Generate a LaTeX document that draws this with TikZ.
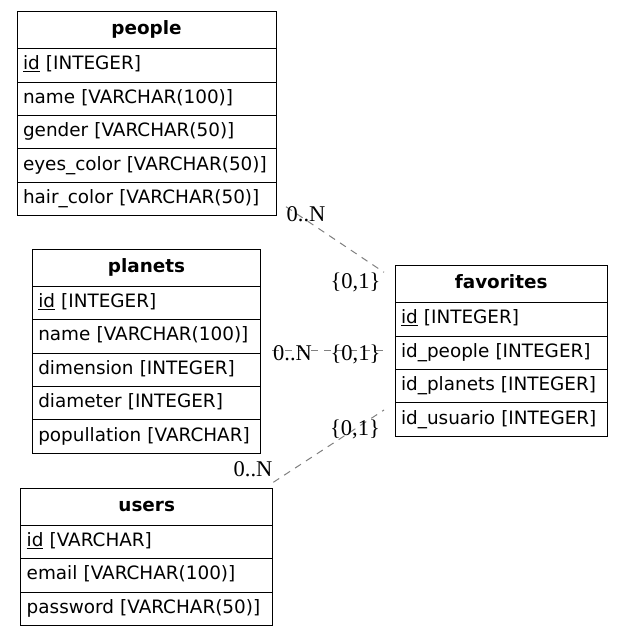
\documentclass[tikz,border=0pt]{standalone}
\usepackage{fontspec}
\setsansfont{DejaVu Sans}
\newfontfamily\cardfont{Liberation Serif}
\usetikzlibrary{positioning}

\begin{document}
\begin{tikzpicture}[x=1pt,y=-1pt,
  hdr/.style={draw,line width=1pt,font=\sffamily\bfseries\fontsize{18.4}{22}\selectfont,
    text width=#1,align=center,minimum height=37pt,inner xsep=6pt,inner ysep=0pt,
    text height=13.4pt,text depth=4.4pt,anchor=north west,outer sep=0pt},
  row/.style={draw,line width=1pt,font=\sffamily\fontsize{18.4}{22}\selectfont,
    text width=#1,align=left,minimum height=33.4pt,inner xsep=6pt,inner ysep=0pt,
    text height=13.4pt,text depth=4.4pt,outer sep=0pt},
  card/.style={font=\cardfont\fontsize{22.5}{26}\selectfont,inner sep=0pt,anchor=base},
  rel/.style={draw=gray,line width=1pt,dash pattern=on 7pt off 6pt}]
\path[fill=white] (0,0) rectangle (623,636);

% people
\node[hdr=247pt] (people) at (17,11.7) {people};
\node[row=247pt,below=0pt of people] (people-id) {\underline{id} [INTEGER]};
\node[row=247pt,below=0pt of people-id] (people-name) {name [VARCHAR(100)]};
\node[row=247pt,below=0pt of people-name] (people-gender) {gender [VARCHAR(50)]};
\node[row=247pt,below=0pt of people-gender] (people-eyes) {eyes\_color [VARCHAR(50)]};
\node[row=247pt,below=0pt of people-eyes] (people-hair) {hair\_color [VARCHAR(50)]};

% planets
\node[hdr=216.4pt] (planets) at (32.3,249.3) {planets};
\node[row=216.4pt,below=0pt of planets] (planets-id) {\underline{id} [INTEGER]};
\node[row=216.4pt,below=0pt of planets-id] (planets-name) {name [VARCHAR(100)]};
\node[row=216.4pt,below=0pt of planets-name] (planets-dim) {dimension [INTEGER]};
\node[row=216.4pt,below=0pt of planets-dim] (planets-diam) {diameter [INTEGER]};
\node[row=216.4pt,below=0pt of planets-diam] (planets-pop) {popullation [VARCHAR]};

% users
\node[hdr=240pt] (users) at (20.7,488.3) {users};
\node[row=240pt,below=0pt of users] (users-id) {\underline{id} [VARCHAR]};
\node[row=240pt,below=0pt of users-id] (users-email) {email [VARCHAR(100)]};
\node[row=240pt,below=0pt of users-email] (users-pw) {password [VARCHAR(50)]};

% favorites
\node[hdr=200.3pt] (favorites) at (395,265.7) {favorites};
\node[row=200.3pt,below=0pt of favorites] (fav-id) {\underline{id} [INTEGER]};
\node[row=200.3pt,below=0pt of fav-id] (fav-people) {id\_people [INTEGER]};
\node[row=200.3pt,below=0pt of fav-people] (fav-planets) {id\_planets [INTEGER]};
\node[row=200.3pt,below=0pt of fav-planets] (fav-usuario) {id\_usuario [INTEGER]};

% relations
\coordinate (people-out) at (286,206.7);
\coordinate (fav-in1) at (384,272.3);
\coordinate (planets-out) at (272,350);
\coordinate (fav-in2) at (384,350);
\coordinate (users-out) at (273.3,482.3);
\coordinate (fav-in3) at (384,410);
\draw[rel] (people-out) -- (fav-in1);
\draw[rel] (planets-out) -- (fav-in2);
\draw[rel] (users-out) -- (fav-in3);

\node[card] (card-people) at (306,221.7) {0..N};
\node[card] (card-fav1) at (355.5,288) {\{0,1\}};
\node[card] (card-planets) at (292.5,360) {0..N};
\node[card] (card-fav2) at (355.5,360) {\{0,1\}};
\node[card] (card-fav3) at (355,435) {\{0,1\}};
\node[card] (card-users) at (253,476.7) {0..N};
\end{tikzpicture}
\end{document}
